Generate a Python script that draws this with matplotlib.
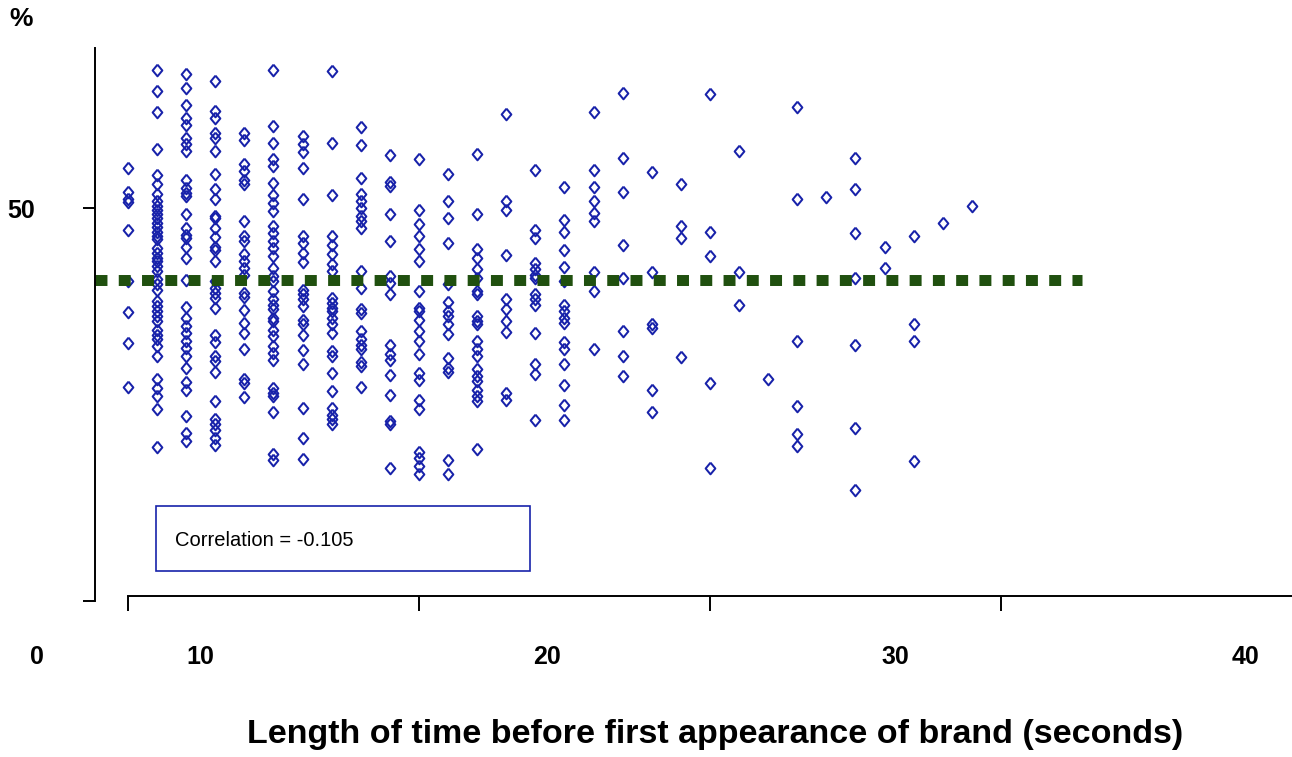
import matplotlib.pyplot as plt
from matplotlib.patches import Rectangle

# recall score (%) of each ad, grouped by seconds before the brand first appears
seconds = list(range(30))
recall = [
    [55.1, 52.1, 51.1, 50.8, 47.2, 40.7, 36.8, 32.8, 27.2],
    [67.5, 64.9, 62.2, 57.5, 54.2, 53.0, 51.8, 50.9, 50.2, 49.8, 49.2, 48.7, 48.1, 47.6,
     47.0, 46.5, 46.0, 44.9, 44.3, 43.7, 43.2, 42.6, 42.0, 41.0, 40.3, 39.6, 38.2, 37.5,
     36.9, 36.2, 35.6, 34.5, 33.9, 33.3, 32.4, 31.2, 28.2, 27.1, 26.1, 24.4, 19.6],
    [67.0, 65.3, 63.1, 61.5, 60.6, 58.9, 58.1, 57.2, 53.6, 52.5, 51.9, 51.5, 49.2, 47.5,
     46.6, 46.2, 45.0, 43.7, 40.9, 37.4, 36.0, 35.0, 34.1, 33.1, 32.2, 31.2, 29.7, 27.9,
     26.8, 23.6, 21.4, 20.3],
    [66.1, 62.3, 61.4, 59.5, 58.9, 57.2, 54.3, 52.4, 51.1, 49.0, 48.7, 47.5, 46.3, 45.1,
     44.7, 43.2, 40.7, 39.8, 39.2, 38.6, 37.3, 33.9, 33.0, 31.2, 30.5, 29.2, 25.4, 23.1,
     22.5, 21.8, 20.8, 19.9],
    [59.5, 58.7, 55.6, 54.7, 53.6, 53.1, 48.3, 46.4, 45.8, 44.1, 43.2, 42.4, 41.5, 39.2,
     38.7, 37.0, 35.4, 34.1, 32.1, 28.2, 27.8, 25.9],
    [67.6, 60.4, 58.3, 56.2, 55.3, 53.2, 51.7, 50.6, 49.6, 47.7, 46.8, 45.8, 44.9, 43.9,
     42.4, 41.3, 40.7, 39.4, 38.4, 37.7, 37.1, 36.0, 35.6, 34.5, 33.7, 32.4, 31.6, 30.7,
     27.1, 26.5, 26.1, 24.0, 18.7, 18.0],
    [59.1, 58.1, 57.1, 55.1, 51.1, 46.5, 45.6, 44.3, 43.1, 39.6, 39.0, 38.4, 37.5, 35.8,
     35.3, 33.8, 31.9, 30.1, 24.6, 20.7, 18.1],
    [67.4, 58.3, 51.7, 46.4, 45.3, 44.1, 42.9, 42.0, 38.6, 37.9, 37.3, 36.9, 36.0, 35.2,
     34.1, 31.8, 31.2, 29.0, 26.7, 24.6, 23.7, 23.1, 22.5],
    [60.3, 58.0, 53.8, 51.8, 50.9, 50.0, 49.0, 48.3, 47.5, 42.0, 39.8, 37.1, 36.7, 34.3,
     33.3, 32.6, 32.0, 30.4, 29.9, 27.2],
    [56.7, 53.3, 52.8, 49.2, 45.8, 41.3, 40.5, 39.0, 32.6, 31.4, 30.6, 28.7, 26.2, 22.9,
     22.5, 16.9],
    [56.2, 49.8, 48.0, 46.4, 44.8, 43.2, 39.5, 37.3, 36.9, 35.7, 34.3, 33.1, 31.4, 29.0,
     28.1, 25.6, 24.4, 18.9, 18.2, 17.2, 16.2],
    [54.3, 50.9, 48.7, 45.6, 40.3, 38.1, 36.9, 36.2, 35.2, 34.0, 30.9, 29.7, 29.2, 18.0, 16.2],
    [56.9, 49.2, 44.8, 43.6, 42.2, 41.1, 39.4, 39.0, 36.2, 35.6, 35.2, 33.1, 32.1, 31.2,
     29.5, 28.6, 28.0, 26.9, 26.1, 25.4, 19.3],
    [62.0, 50.9, 49.8, 44.0, 38.4, 37.2, 35.6, 34.2, 26.5, 25.6],
    [54.9, 47.2, 46.2, 43.0, 42.2, 41.5, 41.1, 39.1, 38.4, 37.7, 34.1, 30.2, 28.9, 23.0],
    [52.7, 48.5, 47.0, 44.7, 42.5, 40.7, 37.7, 36.9, 36.0, 35.4, 33.0, 32.0, 30.2, 27.5,
     25.0, 23.0],
    [62.2, 54.8, 52.7, 50.9, 49.4, 48.4, 41.9, 39.5, 32.1],
    [64.6, 56.4, 52.1, 45.3, 41.1, 34.4, 31.2, 28.6],
    [54.6, 41.9, 35.2, 34.7, 26.8, 24.1],
    [53.0, 47.7, 46.2, 31.0],
    [64.5, 46.9, 43.9, 27.8, 16.9],
    [57.2, 41.9, 37.6],
    [28.2],
    [62.9, 51.1, 33.1, 24.8, 21.2, 19.7],
    [51.4],
    [56.4, 52.4, 46.8, 41.1, 32.6, 22.0, 14.1],
    [45.0, 42.4],
    [46.4, 35.2, 33.1, 17.8],
    [48.1],
    [50.3],
]
mean_recall = 40.8
mean_line_end = 32.8
correlation = -0.105
x_labels = ['0', '10', '20', '30', '40']
x_label_pos = [-3.13, 2.47, 14.4, 26.36, 38.4]

font = ['Liberation Sans', 'DejaVu Sans']
blue = '#1822aa'

xs, ys = [], []
for s, vals in zip(seconds, recall):
    xs += [s] * len(vals)
    ys += vals

fig = plt.figure(figsize=(12.92, 7.57), dpi=100)
ax = fig.add_axes([95 / 1292, 156 / 757, 1197 / 1292, 553 / 757])
ax.set_xlim(-1.134, 40.0)
ax.set_ylim(0, 70.36)

diamond = [(0, 1), (0.83, 0), (0, -1), (-0.83, 0), (0, 1)]
ax.plot(xs, ys, linestyle='none', marker=diamond, markersize=8.4,
        markerfacecolor='none', markeredgecolor=blue, markeredgewidth=1.45)

# average line
ln, = ax.plot([-1.134, mean_line_end], [mean_recall, mean_recall],
              color='#20500f', linewidth=7.9, solid_capstyle='butt')
ln.set_dashes((1.09, 1.03))
ln.set_dash_capstyle('butt')

ax.spines['top'].set_visible(False)
ax.spines['right'].set_visible(False)
ax.spines['left'].set_linewidth(1.4)
ax.spines['bottom'].set_linewidth(1.4)
ax.spines['bottom'].set_position(('data', 0.64))
ax.spines['bottom'].set_bounds(0, 40)

ax.set_xticks([0, 10, 20, 30])
ax.tick_params(axis='x', direction='out', length=10.8, width=1.4, labelbottom=False)
ax.set_yticks([0, 50], ['', '50'])
ax.tick_params(axis='y', direction='out', length=8.6, width=1.4, pad=34.6)
yt = ax.yaxis.get_major_ticks()
yt[1].tick1line.set_color('#2233aa')
for lab in ax.get_yticklabels():
    lab.set_fontsize(18)
    lab.set_fontweight('bold')
    lab.set_family(font)

for lab, pos in zip(x_labels, x_label_pos):
    ax.text(pos, -0.101, lab, transform=ax.get_xaxis_transform(), ha='center', va='center',
            fontsize=18, fontweight='bold', family=font)

fig.text(21 / 1292, 1 - 19 / 757, '%', ha='center', va='center', fontsize=19,
         fontweight='bold', family=font)
fig.text(715 / 1292, 1 - 735 / 757,
         'Length of time before first appearance of brand (seconds)',
         ha='center', va='center', fontsize=24.5, fontweight='bold', family=font)

# correlation box
fig.patches.append(Rectangle((156 / 1292, 1 - 571 / 757), 374 / 1292, 65 / 757,
                             transform=fig.transFigure, facecolor='white',
                             edgecolor=blue, linewidth=1.2))
fig.text(175 / 1292, 1 - 540 / 757, 'Correlation = %.3f' % correlation, ha='left',
         va='center', fontsize=14.5, family=font)

fig.savefig('out.png', dpi=100)
